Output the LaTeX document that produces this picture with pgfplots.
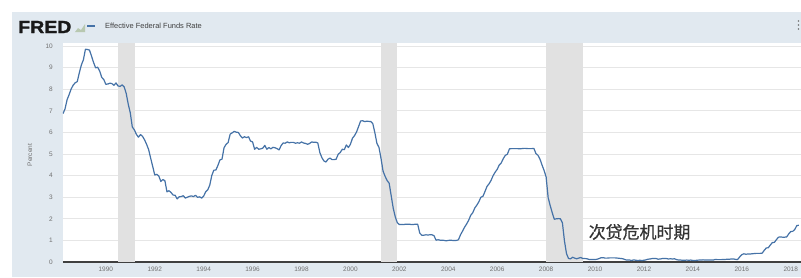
\documentclass[border=0pt]{standalone}
\usepackage{pgfplots}
\pgfplotsset{compat=1.18}
\usepackage{pgfplotstable}
\usepackage{fontspec}
\setmainfont{Liberation Sans}
\newfontfamily\cjk{Noto Sans CJK SC}
\definecolor{fredbg}{HTML}{E1E9F0}
\definecolor{fredline}{HTML}{4572A7}
\definecolor{recess}{HTML}{E1E1E1}
\definecolor{gridc}{HTML}{E6E6E6}
\definecolor{tickc}{HTML}{707070}
\definecolor{iconc}{HTML}{B8C8B0}

\pgfplotstableread[row sep=\\]{
yr mo v \\
1988 4 6.87 \\ 1988 5 7.09 \\ 1988 6 7.51 \\ 1988 7 7.75 \\ 1988 8 8.01 \\ 1988 9 8.19 \\ 1988 10 8.30 \\ 1988 11 8.35 \\ 1988 12 8.76 \\
1989 1 9.12 \\ 1989 2 9.36 \\ 1989 3 9.85 \\ 1989 4 9.84 \\ 1989 5 9.81 \\ 1989 6 9.53 \\ 1989 7 9.24 \\ 1989 8 8.99 \\ 1989 9 9.02 \\ 1989 10 8.84 \\ 1989 11 8.55 \\ 1989 12 8.45 \\
1990 1 8.23 \\ 1990 2 8.24 \\ 1990 3 8.28 \\ 1990 4 8.26 \\ 1990 5 8.18 \\ 1990 6 8.29 \\ 1990 7 8.15 \\ 1990 8 8.13 \\ 1990 9 8.20 \\ 1990 10 8.11 \\ 1990 11 7.81 \\ 1990 12 7.31 \\
1991 1 6.91 \\ 1991 2 6.25 \\ 1991 3 6.12 \\ 1991 4 5.91 \\ 1991 5 5.78 \\ 1991 6 5.90 \\ 1991 7 5.82 \\ 1991 8 5.66 \\ 1991 9 5.45 \\ 1991 10 5.21 \\ 1991 11 4.81 \\ 1991 12 4.43 \\
1992 1 4.03 \\ 1992 2 4.06 \\ 1992 3 3.98 \\ 1992 4 3.73 \\ 1992 5 3.82 \\ 1992 6 3.76 \\ 1992 7 3.25 \\ 1992 8 3.30 \\ 1992 9 3.22 \\ 1992 10 3.10 \\ 1992 11 3.09 \\ 1992 12 2.92 \\
1993 1 3.02 \\ 1993 2 3.03 \\ 1993 3 3.07 \\ 1993 4 2.96 \\ 1993 5 3.00 \\ 1993 6 3.04 \\ 1993 7 3.06 \\ 1993 8 3.03 \\ 1993 9 3.09 \\ 1993 10 2.99 \\ 1993 11 3.02 \\ 1993 12 2.96 \\
1994 1 3.05 \\ 1994 2 3.25 \\ 1994 3 3.34 \\ 1994 4 3.56 \\ 1994 5 4.01 \\ 1994 6 4.25 \\ 1994 7 4.26 \\ 1994 8 4.47 \\ 1994 9 4.73 \\ 1994 10 4.76 \\ 1994 11 5.29 \\ 1994 12 5.45 \\
1995 1 5.53 \\ 1995 2 5.92 \\ 1995 3 5.98 \\ 1995 4 6.05 \\ 1995 5 6.01 \\ 1995 6 6.00 \\ 1995 7 5.85 \\ 1995 8 5.74 \\ 1995 9 5.80 \\ 1995 10 5.76 \\ 1995 11 5.80 \\ 1995 12 5.60 \\
1996 1 5.56 \\ 1996 2 5.22 \\ 1996 3 5.31 \\ 1996 4 5.22 \\ 1996 5 5.24 \\ 1996 6 5.27 \\ 1996 7 5.40 \\ 1996 8 5.22 \\ 1996 9 5.30 \\ 1996 10 5.24 \\ 1996 11 5.31 \\ 1996 12 5.29 \\
1997 1 5.25 \\ 1997 2 5.19 \\ 1997 3 5.39 \\ 1997 4 5.51 \\ 1997 5 5.50 \\ 1997 6 5.56 \\ 1997 7 5.52 \\ 1997 8 5.54 \\ 1997 9 5.54 \\ 1997 10 5.50 \\ 1997 11 5.52 \\ 1997 12 5.50 \\
1998 1 5.56 \\ 1998 2 5.51 \\ 1998 3 5.49 \\ 1998 4 5.45 \\ 1998 5 5.49 \\ 1998 6 5.56 \\ 1998 7 5.54 \\ 1998 8 5.55 \\ 1998 9 5.51 \\ 1998 10 5.07 \\ 1998 11 4.83 \\ 1998 12 4.68 \\
1999 1 4.63 \\ 1999 2 4.76 \\ 1999 3 4.81 \\ 1999 4 4.74 \\ 1999 5 4.74 \\ 1999 6 4.76 \\ 1999 7 4.99 \\ 1999 8 5.07 \\ 1999 9 5.22 \\ 1999 10 5.20 \\ 1999 11 5.42 \\ 1999 12 5.30 \\
2000 1 5.45 \\ 2000 2 5.73 \\ 2000 3 5.85 \\ 2000 4 6.02 \\ 2000 5 6.27 \\ 2000 6 6.53 \\ 2000 7 6.54 \\ 2000 8 6.50 \\ 2000 9 6.52 \\ 2000 10 6.51 \\ 2000 11 6.51 \\ 2000 12 6.40 \\
2001 1 5.98 \\ 2001 2 5.49 \\ 2001 3 5.31 \\ 2001 4 4.80 \\ 2001 5 4.21 \\ 2001 6 3.97 \\ 2001 7 3.77 \\ 2001 8 3.65 \\ 2001 9 3.07 \\ 2001 10 2.49 \\ 2001 11 2.09 \\ 2001 12 1.82 \\
2002 1 1.73 \\ 2002 2 1.74 \\ 2002 3 1.73 \\ 2002 4 1.75 \\ 2002 5 1.75 \\ 2002 6 1.75 \\ 2002 7 1.73 \\ 2002 8 1.74 \\ 2002 9 1.75 \\ 2002 10 1.75 \\ 2002 11 1.34 \\ 2002 12 1.24 \\
2003 1 1.24 \\ 2003 2 1.26 \\ 2003 3 1.25 \\ 2003 4 1.26 \\ 2003 5 1.26 \\ 2003 6 1.22 \\ 2003 7 1.01 \\ 2003 8 1.03 \\ 2003 9 1.01 \\ 2003 10 1.01 \\ 2003 11 1.00 \\ 2003 12 0.98 \\
2004 1 1.00 \\ 2004 2 1.01 \\ 2004 3 1.00 \\ 2004 4 1.00 \\ 2004 5 1.00 \\ 2004 6 1.03 \\ 2004 7 1.26 \\ 2004 8 1.43 \\ 2004 9 1.61 \\ 2004 10 1.76 \\ 2004 11 1.93 \\ 2004 12 2.16 \\
2005 1 2.28 \\ 2005 2 2.50 \\ 2005 3 2.63 \\ 2005 4 2.79 \\ 2005 5 3.00 \\ 2005 6 3.04 \\ 2005 7 3.26 \\ 2005 8 3.50 \\ 2005 9 3.62 \\ 2005 10 3.78 \\ 2005 11 4.00 \\ 2005 12 4.16 \\
2006 1 4.29 \\ 2006 2 4.49 \\ 2006 3 4.59 \\ 2006 4 4.79 \\ 2006 5 4.94 \\ 2006 6 4.99 \\ 2006 7 5.24 \\ 2006 8 5.25 \\ 2006 9 5.25 \\ 2006 10 5.25 \\ 2006 11 5.25 \\ 2006 12 5.24 \\
2007 1 5.25 \\ 2007 2 5.26 \\ 2007 3 5.26 \\ 2007 4 5.25 \\ 2007 5 5.25 \\ 2007 6 5.25 \\ 2007 7 5.26 \\ 2007 8 5.02 \\ 2007 9 4.94 \\ 2007 10 4.76 \\ 2007 11 4.49 \\ 2007 12 4.24 \\
2008 1 3.94 \\ 2008 2 2.98 \\ 2008 3 2.61 \\ 2008 4 2.28 \\ 2008 5 1.98 \\ 2008 6 2.00 \\ 2008 7 2.01 \\ 2008 8 2.00 \\ 2008 9 1.81 \\ 2008 10 0.97 \\ 2008 11 0.39 \\ 2008 12 0.16 \\
2009 1 0.15 \\ 2009 2 0.22 \\ 2009 3 0.18 \\ 2009 4 0.15 \\ 2009 5 0.18 \\ 2009 6 0.21 \\ 2009 7 0.16 \\ 2009 8 0.16 \\ 2009 9 0.15 \\ 2009 10 0.12 \\ 2009 11 0.12 \\ 2009 12 0.12 \\
2010 1 0.11 \\ 2010 2 0.13 \\ 2010 3 0.16 \\ 2010 4 0.20 \\ 2010 5 0.20 \\ 2010 6 0.18 \\ 2010 7 0.18 \\ 2010 8 0.19 \\ 2010 9 0.19 \\ 2010 10 0.19 \\ 2010 11 0.19 \\ 2010 12 0.18 \\
2011 1 0.17 \\ 2011 2 0.16 \\ 2011 3 0.14 \\ 2011 4 0.10 \\ 2011 5 0.09 \\ 2011 6 0.09 \\ 2011 7 0.07 \\ 2011 8 0.10 \\ 2011 9 0.08 \\ 2011 10 0.07 \\ 2011 11 0.08 \\ 2011 12 0.07 \\
2012 1 0.08 \\ 2012 2 0.10 \\ 2012 3 0.13 \\ 2012 4 0.14 \\ 2012 5 0.16 \\ 2012 6 0.16 \\ 2012 7 0.16 \\ 2012 8 0.13 \\ 2012 9 0.14 \\ 2012 10 0.16 \\ 2012 11 0.16 \\ 2012 12 0.16 \\
2013 1 0.14 \\ 2013 2 0.15 \\ 2013 3 0.14 \\ 2013 4 0.15 \\ 2013 5 0.11 \\ 2013 6 0.09 \\ 2013 7 0.09 \\ 2013 8 0.08 \\ 2013 9 0.08 \\ 2013 10 0.09 \\ 2013 11 0.08 \\ 2013 12 0.09 \\
2014 1 0.07 \\ 2014 2 0.07 \\ 2014 3 0.08 \\ 2014 4 0.09 \\ 2014 5 0.09 \\ 2014 6 0.10 \\ 2014 7 0.09 \\ 2014 8 0.09 \\ 2014 9 0.09 \\ 2014 10 0.09 \\ 2014 11 0.09 \\ 2014 12 0.12 \\
2015 1 0.11 \\ 2015 2 0.11 \\ 2015 3 0.11 \\ 2015 4 0.12 \\ 2015 5 0.12 \\ 2015 6 0.13 \\ 2015 7 0.13 \\ 2015 8 0.14 \\ 2015 9 0.14 \\ 2015 10 0.12 \\ 2015 11 0.12 \\ 2015 12 0.24 \\
2016 1 0.34 \\ 2016 2 0.38 \\ 2016 3 0.36 \\ 2016 4 0.37 \\ 2016 5 0.37 \\ 2016 6 0.38 \\ 2016 7 0.39 \\ 2016 8 0.40 \\ 2016 9 0.40 \\ 2016 10 0.40 \\ 2016 11 0.41 \\ 2016 12 0.54 \\
2017 1 0.65 \\ 2017 2 0.66 \\ 2017 3 0.79 \\ 2017 4 0.90 \\ 2017 5 0.91 \\ 2017 6 1.04 \\ 2017 7 1.15 \\ 2017 8 1.16 \\ 2017 9 1.15 \\ 2017 10 1.15 \\ 2017 11 1.16 \\ 2017 12 1.30 \\
2018 1 1.41 \\ 2018 2 1.42 \\ 2018 3 1.51 \\ 2018 4 1.69 \\ 2018 5 1.70 \\
}\fedfunds

\begin{document}
\begin{tikzpicture}[x=1bp,y=1bp]
\path[use as bounding box] (-63,-15) rectangle (738,262);
\fill[white] (-63,-15) rectangle (738,262);
\fill[fredbg] (-51,-15) rectangle (738,250);
% header
\node[anchor=base west, inner sep=0, xscale=1.12, text=black!90,
      font=\bfseries\fontsize{17.5}{17.5}\selectfont] at (-45,229) {\addfontfeatures{FakeBold=1.5}FRED};
\fill[iconc] (12,230) -- (15,234) -- (18,232) -- (22,238) -- (22,230) -- cycle;
\draw[fredline, line width=1.5bp] (24,236) -- (32,236);
\node[anchor=west, inner sep=0, text=black!75,
      font=\fontsize{7.5}{8}\selectfont] at (42,236) {Effective Federal Funds Rate};
\foreach \yy in {233,237,241} \fill[black!55] (735.5,\yy) circle (0.9);
\node[rotate=90, text=tickc, font=\fontsize{6.5}{7}\selectfont] at (-33,107) {Percent};
\begin{axis}[
  at={(0,0)}, anchor=south west,
  scale only axis, width=738bp, height=219bp,
  axis background/.style={fill=white},
  xmin=1988.25, xmax=2018.42, ymin=0, ymax=10.14,
  axis x line*=bottom, axis y line*=left,
  x axis line style={black!75, line width=1.4bp, -},
  y axis line style={draw=none},
  ytick={0,1,...,10},
  xtick={1990,1992,...,2018},
  major tick length=0pt,
  ymajorgrids, grid style={gridc, line width=0.8bp},
  /pgf/number format/assume math mode=true,
  /pgf/number format/1000 sep={},
  tick label style={text=tickc, font=\fontsize{6.5}{7}\selectfont},
  yticklabel style={anchor=east, inner sep=0pt, xshift=-10bp},
  xticklabel style={anchor=north, inner sep=0pt, yshift=-5bp},
]
\addplot[fill=recess, draw=none] coordinates {(1990.5,10.14) (1991.2,10.14)} \closedcycle;
\addplot[fill=recess, draw=none] coordinates {(2001.25,10.14) (2001.9,10.14)} \closedcycle;
\addplot[fill=recess, draw=none] coordinates {(2008.0,10.14) (2009.5,10.14)} \closedcycle;
\addplot[fredline, line width=1.2bp, line join=round]
  table[x expr=\thisrow{yr}+(\thisrow{mo}-1)/12, y=v] {\fedfunds};
\node[text=black!80, font=\cjk\fontsize{17}{17}\selectfont] at (axis cs:2011.82,1.39) {\addfontfeatures{FakeBold=0.6}次贷危机时期};
\end{axis}
\end{tikzpicture}
\end{document}
